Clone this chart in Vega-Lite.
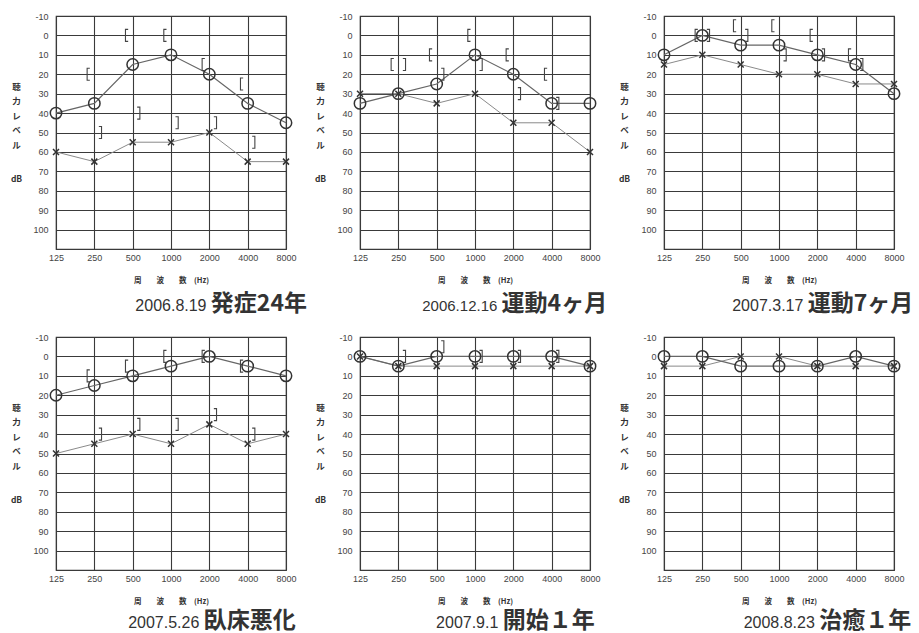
{
  "$schema": "https://vega.github.io/schema/vega-lite/v6.json",
  "background": "white",
  "padding": {"left": 9, "top": 11, "right": 0, "bottom": 0},
  "columns": 3,
  "bounds": "flush",
  "spacing": {"row": 88, "column": 74},
  "config": {
    "font": "Liberation Sans",
    "view": {"stroke": "#3a3a3a", "strokeWidth": 1.2},
    "axis": {
      "grid": true, "gridColor": "#3a3a3a", "gridOpacity": 1, "gridWidth": 1.1,
      "domain": false, "ticks": false,
      "labelFont": "Liberation Sans", "labelFontSize": 9, "labelColor": "#444", "labelFlush": false,
      "titleColor": "#333", "titleFont": "Noto Sans CJK JP", "titleFontWeight": "bold"
    },
    "axisX": {"labelPadding": 4, "titleFontSize": 7.5, "titlePadding": 14},
    "axisY": {"labelPadding": 8, "titleFontSize": 8.5, "titleAngle": 0, "titleAlign": "center", "titleBaseline": "top", "titleLineHeight": 14.5, "titleX": -40, "titleY": 66}
  },
  "datasets": {
    "points": [
      {"panel": "p1", "kind": "AR", "freq": 125, "db": 40},
      {"panel": "p1", "kind": "AR", "freq": 250, "db": 35},
      {"panel": "p1", "kind": "AR", "freq": 500, "db": 15},
      {"panel": "p1", "kind": "AR", "freq": 1000, "db": 10},
      {"panel": "p1", "kind": "AR", "freq": 2000, "db": 20},
      {"panel": "p1", "kind": "AR", "freq": 4000, "db": 35},
      {"panel": "p1", "kind": "AR", "freq": 8000, "db": 45},
      {"panel": "p1", "kind": "AL", "freq": 125, "db": 60},
      {"panel": "p1", "kind": "AL", "freq": 250, "db": 65},
      {"panel": "p1", "kind": "AL", "freq": 500, "db": 55},
      {"panel": "p1", "kind": "AL", "freq": 1000, "db": 55},
      {"panel": "p1", "kind": "AL", "freq": 2000, "db": 50},
      {"panel": "p1", "kind": "AL", "freq": 4000, "db": 65},
      {"panel": "p1", "kind": "AL", "freq": 8000, "db": 65},
      {"panel": "p1", "kind": "BR", "freq": 250, "db": 20},
      {"panel": "p1", "kind": "BR", "freq": 500, "db": 0},
      {"panel": "p1", "kind": "BR", "freq": 1000, "db": 0},
      {"panel": "p1", "kind": "BR", "freq": 2000, "db": 15},
      {"panel": "p1", "kind": "BR", "freq": 4000, "db": 25},
      {"panel": "p1", "kind": "BL", "freq": 250, "db": 50},
      {"panel": "p1", "kind": "BL", "freq": 500, "db": 40},
      {"panel": "p1", "kind": "BL", "freq": 1000, "db": 45},
      {"panel": "p1", "kind": "BL", "freq": 2000, "db": 45},
      {"panel": "p1", "kind": "BL", "freq": 4000, "db": 55},
      {"panel": "p2", "kind": "AR", "freq": 125, "db": 35},
      {"panel": "p2", "kind": "AR", "freq": 250, "db": 30},
      {"panel": "p2", "kind": "AR", "freq": 500, "db": 25},
      {"panel": "p2", "kind": "AR", "freq": 1000, "db": 10},
      {"panel": "p2", "kind": "AR", "freq": 2000, "db": 20},
      {"panel": "p2", "kind": "AR", "freq": 4000, "db": 35},
      {"panel": "p2", "kind": "AR", "freq": 8000, "db": 35},
      {"panel": "p2", "kind": "AL", "freq": 125, "db": 30},
      {"panel": "p2", "kind": "AL", "freq": 250, "db": 30},
      {"panel": "p2", "kind": "AL", "freq": 500, "db": 35},
      {"panel": "p2", "kind": "AL", "freq": 1000, "db": 30},
      {"panel": "p2", "kind": "AL", "freq": 2000, "db": 45},
      {"panel": "p2", "kind": "AL", "freq": 4000, "db": 45},
      {"panel": "p2", "kind": "AL", "freq": 8000, "db": 60},
      {"panel": "p2", "kind": "BR", "freq": 250, "db": 15},
      {"panel": "p2", "kind": "BR", "freq": 500, "db": 10},
      {"panel": "p2", "kind": "BR", "freq": 1000, "db": 0},
      {"panel": "p2", "kind": "BR", "freq": 2000, "db": 10},
      {"panel": "p2", "kind": "BR", "freq": 4000, "db": 20},
      {"panel": "p2", "kind": "BL", "freq": 250, "db": 15},
      {"panel": "p2", "kind": "BL", "freq": 500, "db": 20},
      {"panel": "p2", "kind": "BL", "freq": 1000, "db": 15},
      {"panel": "p2", "kind": "BL", "freq": 2000, "db": 30},
      {"panel": "p2", "kind": "BL", "freq": 4000, "db": 35},
      {"panel": "p3", "kind": "AR", "freq": 125, "db": 10},
      {"panel": "p3", "kind": "AR", "freq": 250, "db": 0},
      {"panel": "p3", "kind": "AR", "freq": 500, "db": 5},
      {"panel": "p3", "kind": "AR", "freq": 1000, "db": 5},
      {"panel": "p3", "kind": "AR", "freq": 2000, "db": 10},
      {"panel": "p3", "kind": "AR", "freq": 4000, "db": 15},
      {"panel": "p3", "kind": "AR", "freq": 8000, "db": 30},
      {"panel": "p3", "kind": "AL", "freq": 125, "db": 15},
      {"panel": "p3", "kind": "AL", "freq": 250, "db": 10},
      {"panel": "p3", "kind": "AL", "freq": 500, "db": 15},
      {"panel": "p3", "kind": "AL", "freq": 1000, "db": 20},
      {"panel": "p3", "kind": "AL", "freq": 2000, "db": 20},
      {"panel": "p3", "kind": "AL", "freq": 4000, "db": 25},
      {"panel": "p3", "kind": "AL", "freq": 8000, "db": 25},
      {"panel": "p3", "kind": "BR", "freq": 250, "db": 0},
      {"panel": "p3", "kind": "BR", "freq": 500, "db": -5},
      {"panel": "p3", "kind": "BR", "freq": 1000, "db": -5},
      {"panel": "p3", "kind": "BR", "freq": 2000, "db": 0},
      {"panel": "p3", "kind": "BR", "freq": 4000, "db": 10},
      {"panel": "p3", "kind": "BL", "freq": 250, "db": 0},
      {"panel": "p3", "kind": "BL", "freq": 500, "db": 0},
      {"panel": "p3", "kind": "BL", "freq": 1000, "db": 10},
      {"panel": "p3", "kind": "BL", "freq": 2000, "db": 10},
      {"panel": "p3", "kind": "BL", "freq": 4000, "db": 15},
      {"panel": "p4", "kind": "AR", "freq": 125, "db": 20},
      {"panel": "p4", "kind": "AR", "freq": 250, "db": 15},
      {"panel": "p4", "kind": "AR", "freq": 500, "db": 10},
      {"panel": "p4", "kind": "AR", "freq": 1000, "db": 5},
      {"panel": "p4", "kind": "AR", "freq": 2000, "db": 0},
      {"panel": "p4", "kind": "AR", "freq": 4000, "db": 5},
      {"panel": "p4", "kind": "AR", "freq": 8000, "db": 10},
      {"panel": "p4", "kind": "AL", "freq": 125, "db": 50},
      {"panel": "p4", "kind": "AL", "freq": 250, "db": 45},
      {"panel": "p4", "kind": "AL", "freq": 500, "db": 40},
      {"panel": "p4", "kind": "AL", "freq": 1000, "db": 45},
      {"panel": "p4", "kind": "AL", "freq": 2000, "db": 35},
      {"panel": "p4", "kind": "AL", "freq": 4000, "db": 45},
      {"panel": "p4", "kind": "AL", "freq": 8000, "db": 40},
      {"panel": "p4", "kind": "BR", "freq": 250, "db": 10},
      {"panel": "p4", "kind": "BR", "freq": 500, "db": 5},
      {"panel": "p4", "kind": "BR", "freq": 1000, "db": 0},
      {"panel": "p4", "kind": "BR", "freq": 2000, "db": 0},
      {"panel": "p4", "kind": "BR", "freq": 4000, "db": 5},
      {"panel": "p4", "kind": "BL", "freq": 250, "db": 40},
      {"panel": "p4", "kind": "BL", "freq": 500, "db": 35},
      {"panel": "p4", "kind": "BL", "freq": 1000, "db": 35},
      {"panel": "p4", "kind": "BL", "freq": 2000, "db": 30},
      {"panel": "p4", "kind": "BL", "freq": 4000, "db": 40},
      {"panel": "p5", "kind": "AR", "freq": 125, "db": 0},
      {"panel": "p5", "kind": "AR", "freq": 250, "db": 5},
      {"panel": "p5", "kind": "AR", "freq": 500, "db": 0},
      {"panel": "p5", "kind": "AR", "freq": 1000, "db": 0},
      {"panel": "p5", "kind": "AR", "freq": 2000, "db": 0},
      {"panel": "p5", "kind": "AR", "freq": 4000, "db": 0},
      {"panel": "p5", "kind": "AR", "freq": 8000, "db": 5},
      {"panel": "p5", "kind": "AL", "freq": 125, "db": 0},
      {"panel": "p5", "kind": "AL", "freq": 250, "db": 5},
      {"panel": "p5", "kind": "AL", "freq": 500, "db": 5},
      {"panel": "p5", "kind": "AL", "freq": 1000, "db": 5},
      {"panel": "p5", "kind": "AL", "freq": 2000, "db": 5},
      {"panel": "p5", "kind": "AL", "freq": 4000, "db": 5},
      {"panel": "p5", "kind": "AL", "freq": 8000, "db": 5},
      {"panel": "p5", "kind": "BL", "freq": 250, "db": 0},
      {"panel": "p5", "kind": "BL", "freq": 500, "db": -5},
      {"panel": "p5", "kind": "BL", "freq": 1000, "db": 0},
      {"panel": "p5", "kind": "BL", "freq": 2000, "db": 0},
      {"panel": "p5", "kind": "BL", "freq": 4000, "db": 0},
      {"panel": "p6", "kind": "AR", "freq": 125, "db": 0},
      {"panel": "p6", "kind": "AR", "freq": 250, "db": 0},
      {"panel": "p6", "kind": "AR", "freq": 500, "db": 5},
      {"panel": "p6", "kind": "AR", "freq": 1000, "db": 5},
      {"panel": "p6", "kind": "AR", "freq": 2000, "db": 5},
      {"panel": "p6", "kind": "AR", "freq": 4000, "db": 0},
      {"panel": "p6", "kind": "AR", "freq": 8000, "db": 5},
      {"panel": "p6", "kind": "AL", "freq": 125, "db": 5},
      {"panel": "p6", "kind": "AL", "freq": 250, "db": 5},
      {"panel": "p6", "kind": "AL", "freq": 500, "db": 0},
      {"panel": "p6", "kind": "AL", "freq": 1000, "db": 0},
      {"panel": "p6", "kind": "AL", "freq": 2000, "db": 5},
      {"panel": "p6", "kind": "AL", "freq": 4000, "db": 5},
      {"panel": "p6", "kind": "AL", "freq": 8000, "db": 5}
    ]
  },
  "concat": [
    {
      "width": 230, "height": 233,
      "data": {"name": "points"},
      "transform": [{"filter": "datum.panel === 'p1'"}],
      "resolve": {"axis": {"x": "independent", "y": "independent"}},
      "encoding": {
        "x": {"field": "freq", "type": "quantitative", "scale": {"type": "log", "base": 2, "domain": [125, 8000], "nice": false}, "axis": null},
        "y": {"field": "db", "type": "quantitative", "scale": {"domain": [-10, 110], "reverse": true, "nice": false, "zero": false}, "axis": null}
      },
      "layer": [
        {"transform": [{"filter": "datum.kind === 'AL'"}], "mark": {"type": "line", "color": "#8a8a8a", "strokeWidth": 1},
         "encoding": {
           "x": {"field": "freq", "type": "quantitative", "axis": {"orient": "bottom", "values": [125, 250, 500, 1000, 2000, 4000, 8000], "format": "d", "title": "周　　波　　数　(Hz)"}},
           "y": {"field": "db", "type": "quantitative", "axis": {"orient": "left", "values": [-10, 0, 10, 20, 30, 40, 50, 60, 70, 80, 90, 100], "labelExpr": "'' + datum.value", "title": ["聴", "力", "レ", "ベ", "ル"]}}}},
        {"transform": [{"filter": "datum.kind === 'AR'"}], "mark": {"type": "line", "color": "#666", "strokeWidth": 1.2},
         "encoding": {
           "x": {"field": "freq", "type": "quantitative", "axis": {"orient": "bottom", "values": [1884, 2036], "grid": false, "title": null, "labelOverlap": false, "labelBound": false, "labelBaseline": "alphabetic", "labelPadding": 61, "labelColor": "#333",
             "labelExpr": "datum.value < 1960 ? '2006.8.19' : '発症24年'",
             "labelAlign": {"condition": {"test": "datum.value < 1960", "value": "right"}, "value": "left"},
             "labelFont": {"condition": {"test": "datum.value < 1960", "value": "Liberation Sans"}, "value": "Noto Sans CJK JP"},
             "labelFontWeight": {"condition": {"test": "datum.value < 1960", "value": "normal"}, "value": "bold"},
             "labelFontSize": {"condition": {"test": "datum.value < 1960", "value": 16}, "value": 23}}},
           "y": {"field": "db", "type": "quantitative", "axis": {"orient": "left", "grid": false, "labels": false, "title": "dB", "titleY": 158}}}},
        {"transform": [{"filter": "datum.kind === 'AR'"}], "mark": {"type": "point", "shape": "circle", "size": 130, "strokeWidth": 1.5, "color": "#333", "filled": false, "opacity": 1}},
        {"transform": [{"filter": "datum.kind === 'AL'"}], "mark": {"type": "point", "shape": "M-1,-1L1,1M-1,1L1,-1", "size": 36, "strokeWidth": 1.5, "color": "#333", "filled": false, "opacity": 1}},
        {"transform": [{"filter": "datum.kind === 'BR'"}], "mark": {"type": "point", "shape": "M-0.75,-1L-1.2,-1L-1.2,1L-0.75,1", "size": 144, "strokeWidth": 1.1, "color": "#444", "filled": false, "opacity": 1}},
        {"transform": [{"filter": "datum.kind === 'BL'"}], "mark": {"type": "point", "shape": "M0.75,-1L1.2,-1L1.2,1L0.75,1", "size": 144, "strokeWidth": 1.1, "color": "#444", "filled": false, "opacity": 1}}
      ]
    },
    {
      "width": 230, "height": 233,
      "data": {"name": "points"},
      "transform": [{"filter": "datum.panel === 'p2'"}],
      "resolve": {"axis": {"x": "independent", "y": "independent"}},
      "encoding": {
        "x": {"field": "freq", "type": "quantitative", "scale": {"type": "log", "base": 2, "domain": [125, 8000], "nice": false}, "axis": null},
        "y": {"field": "db", "type": "quantitative", "scale": {"domain": [-10, 110], "reverse": true, "nice": false, "zero": false}, "axis": null}
      },
      "layer": [
        {"transform": [{"filter": "datum.kind === 'AL'"}], "mark": {"type": "line", "color": "#8a8a8a", "strokeWidth": 1},
         "encoding": {
           "x": {"field": "freq", "type": "quantitative", "axis": {"orient": "bottom", "values": [125, 250, 500, 1000, 2000, 4000, 8000], "format": "d", "title": "周　　波　　数　(Hz)"}},
           "y": {"field": "db", "type": "quantitative", "axis": {"orient": "left", "values": [-10, 0, 10, 20, 30, 40, 50, 60, 70, 80, 90, 100], "labelExpr": "'' + datum.value", "title": ["聴", "力", "レ", "ベ", "ル"]}}}},
        {"transform": [{"filter": "datum.kind === 'AR'"}], "mark": {"type": "line", "color": "#666", "strokeWidth": 1.2},
         "encoding": {
           "x": {"field": "freq", "type": "quantitative", "axis": {"orient": "bottom", "values": [1484, 1602], "grid": false, "title": null, "labelOverlap": false, "labelBound": false, "labelBaseline": "alphabetic", "labelPadding": 61, "labelColor": "#333",
             "labelExpr": "datum.value < 1543 ? '2006.12.16' : '運動4ヶ月'",
             "labelAlign": {"condition": {"test": "datum.value < 1543", "value": "right"}, "value": "left"},
             "labelFont": {"condition": {"test": "datum.value < 1543", "value": "Liberation Sans"}, "value": "Noto Sans CJK JP"},
             "labelFontWeight": {"condition": {"test": "datum.value < 1543", "value": "normal"}, "value": "bold"},
             "labelFontSize": {"condition": {"test": "datum.value < 1543", "value": 15}, "value": 23}}},
           "y": {"field": "db", "type": "quantitative", "axis": {"orient": "left", "grid": false, "labels": false, "title": "dB", "titleY": 158}}}},
        {"transform": [{"filter": "datum.kind === 'AR'"}], "mark": {"type": "point", "shape": "circle", "size": 130, "strokeWidth": 1.5, "color": "#333", "filled": false, "opacity": 1}},
        {"transform": [{"filter": "datum.kind === 'AL'"}], "mark": {"type": "point", "shape": "M-1,-1L1,1M-1,1L1,-1", "size": 36, "strokeWidth": 1.5, "color": "#333", "filled": false, "opacity": 1}},
        {"transform": [{"filter": "datum.kind === 'BR'"}], "mark": {"type": "point", "shape": "M-0.75,-1L-1.2,-1L-1.2,1L-0.75,1", "size": 144, "strokeWidth": 1.1, "color": "#444", "filled": false, "opacity": 1}},
        {"transform": [{"filter": "datum.kind === 'BL'"}], "mark": {"type": "point", "shape": "M0.75,-1L1.2,-1L1.2,1L0.75,1", "size": 144, "strokeWidth": 1.1, "color": "#444", "filled": false, "opacity": 1}}
      ]
    },
    {
      "width": 230, "height": 233,
      "data": {"name": "points"},
      "transform": [{"filter": "datum.panel === 'p3'"}],
      "resolve": {"axis": {"x": "independent", "y": "independent"}},
      "encoding": {
        "x": {"field": "freq", "type": "quantitative", "scale": {"type": "log", "base": 2, "domain": [125, 8000], "nice": false}, "axis": null},
        "y": {"field": "db", "type": "quantitative", "scale": {"domain": [-10, 110], "reverse": true, "nice": false, "zero": false}, "axis": null}
      },
      "layer": [
        {"transform": [{"filter": "datum.kind === 'AL'"}], "mark": {"type": "line", "color": "#8a8a8a", "strokeWidth": 1},
         "encoding": {
           "x": {"field": "freq", "type": "quantitative", "axis": {"orient": "bottom", "values": [125, 250, 500, 1000, 2000, 4000, 8000], "format": "d", "title": "周　　波　　数　(Hz)"}},
           "y": {"field": "db", "type": "quantitative", "axis": {"orient": "left", "values": [-10, 0, 10, 20, 30, 40, 50, 60, 70, 80, 90, 100], "labelExpr": "'' + datum.value", "title": ["聴", "力", "レ", "ベ", "ル"]}}}},
        {"transform": [{"filter": "datum.kind === 'AR'"}], "mark": {"type": "line", "color": "#666", "strokeWidth": 1.2},
         "encoding": {
           "x": {"field": "freq", "type": "quantitative", "axis": {"orient": "bottom", "values": [1540, 1665], "grid": false, "title": null, "labelOverlap": false, "labelBound": false, "labelBaseline": "alphabetic", "labelPadding": 61, "labelColor": "#333",
             "labelExpr": "datum.value < 1601 ? '2007.3.17' : '運動7ヶ月'",
             "labelAlign": {"condition": {"test": "datum.value < 1601", "value": "right"}, "value": "left"},
             "labelFont": {"condition": {"test": "datum.value < 1601", "value": "Liberation Sans"}, "value": "Noto Sans CJK JP"},
             "labelFontWeight": {"condition": {"test": "datum.value < 1601", "value": "normal"}, "value": "bold"},
             "labelFontSize": {"condition": {"test": "datum.value < 1601", "value": 16}, "value": 23}}},
           "y": {"field": "db", "type": "quantitative", "axis": {"orient": "left", "grid": false, "labels": false, "title": "dB", "titleY": 158}}}},
        {"transform": [{"filter": "datum.kind === 'AR'"}], "mark": {"type": "point", "shape": "circle", "size": 130, "strokeWidth": 1.5, "color": "#333", "filled": false, "opacity": 1}},
        {"transform": [{"filter": "datum.kind === 'AL'"}], "mark": {"type": "point", "shape": "M-1,-1L1,1M-1,1L1,-1", "size": 36, "strokeWidth": 1.5, "color": "#333", "filled": false, "opacity": 1}},
        {"transform": [{"filter": "datum.kind === 'BR'"}], "mark": {"type": "point", "shape": "M-0.75,-1L-1.2,-1L-1.2,1L-0.75,1", "size": 144, "strokeWidth": 1.1, "color": "#444", "filled": false, "opacity": 1}},
        {"transform": [{"filter": "datum.kind === 'BL'"}], "mark": {"type": "point", "shape": "M0.75,-1L1.2,-1L1.2,1L0.75,1", "size": 144, "strokeWidth": 1.1, "color": "#444", "filled": false, "opacity": 1}}
      ]
    },
    {
      "width": 230, "height": 233,
      "data": {"name": "points"},
      "transform": [{"filter": "datum.panel === 'p4'"}],
      "resolve": {"axis": {"x": "independent", "y": "independent"}},
      "encoding": {
        "x": {"field": "freq", "type": "quantitative", "scale": {"type": "log", "base": 2, "domain": [125, 8000], "nice": false}, "axis": null},
        "y": {"field": "db", "type": "quantitative", "scale": {"domain": [-10, 110], "reverse": true, "nice": false, "zero": false}, "axis": null}
      },
      "layer": [
        {"transform": [{"filter": "datum.kind === 'AL'"}], "mark": {"type": "line", "color": "#8a8a8a", "strokeWidth": 1},
         "encoding": {
           "x": {"field": "freq", "type": "quantitative", "axis": {"orient": "bottom", "values": [125, 250, 500, 1000, 2000, 4000, 8000], "format": "d", "title": "周　　波　　数　(Hz)"}},
           "y": {"field": "db", "type": "quantitative", "axis": {"orient": "left", "values": [-10, 0, 10, 20, 30, 40, 50, 60, 70, 80, 90, 100], "labelExpr": "'' + datum.value", "title": ["聴", "力", "レ", "ベ", "ル"]}}}},
        {"transform": [{"filter": "datum.kind === 'AR'"}], "mark": {"type": "line", "color": "#666", "strokeWidth": 1.2},
         "encoding": {
           "x": {"field": "freq", "type": "quantitative", "axis": {"orient": "bottom", "values": [1655, 1790], "grid": false, "title": null, "labelOverlap": false, "labelBound": false, "labelBaseline": "alphabetic", "labelPadding": 57, "labelColor": "#333",
             "labelExpr": "datum.value < 1721 ? '2007.5.26' : '臥床悪化'",
             "labelAlign": {"condition": {"test": "datum.value < 1721", "value": "right"}, "value": "left"},
             "labelFont": {"condition": {"test": "datum.value < 1721", "value": "Liberation Sans"}, "value": "Noto Sans CJK JP"},
             "labelFontWeight": {"condition": {"test": "datum.value < 1721", "value": "normal"}, "value": "bold"},
             "labelFontSize": {"condition": {"test": "datum.value < 1721", "value": 16}, "value": 23}}},
           "y": {"field": "db", "type": "quantitative", "axis": {"orient": "left", "grid": false, "labels": false, "title": "dB", "titleY": 158}}}},
        {"transform": [{"filter": "datum.kind === 'AR'"}], "mark": {"type": "point", "shape": "circle", "size": 130, "strokeWidth": 1.5, "color": "#333", "filled": false, "opacity": 1}},
        {"transform": [{"filter": "datum.kind === 'AL'"}], "mark": {"type": "point", "shape": "M-1,-1L1,1M-1,1L1,-1", "size": 36, "strokeWidth": 1.5, "color": "#333", "filled": false, "opacity": 1}},
        {"transform": [{"filter": "datum.kind === 'BR'"}], "mark": {"type": "point", "shape": "M-0.75,-1L-1.2,-1L-1.2,1L-0.75,1", "size": 144, "strokeWidth": 1.1, "color": "#444", "filled": false, "opacity": 1}},
        {"transform": [{"filter": "datum.kind === 'BL'"}], "mark": {"type": "point", "shape": "M0.75,-1L1.2,-1L1.2,1L0.75,1", "size": 144, "strokeWidth": 1.1, "color": "#444", "filled": false, "opacity": 1}}
      ]
    },
    {
      "width": 230, "height": 233,
      "data": {"name": "points"},
      "transform": [{"filter": "datum.panel === 'p5'"}],
      "resolve": {"axis": {"x": "independent", "y": "independent"}},
      "encoding": {
        "x": {"field": "freq", "type": "quantitative", "scale": {"type": "log", "base": 2, "domain": [125, 8000], "nice": false}, "axis": null},
        "y": {"field": "db", "type": "quantitative", "scale": {"domain": [-10, 110], "reverse": true, "nice": false, "zero": false}, "axis": null}
      },
      "layer": [
        {"transform": [{"filter": "datum.kind === 'AL'"}], "mark": {"type": "line", "color": "#8a8a8a", "strokeWidth": 1},
         "encoding": {
           "x": {"field": "freq", "type": "quantitative", "axis": {"orient": "bottom", "values": [125, 250, 500, 1000, 2000, 4000, 8000], "format": "d", "title": "周　　波　　数　(Hz)"}},
           "y": {"field": "db", "type": "quantitative", "axis": {"orient": "left", "values": [-10, 0, 10, 20, 30, 40, 50, 60, 70, 80, 90, 100], "labelExpr": "'' + datum.value", "title": ["聴", "力", "レ", "ベ", "ル"]}}}},
        {"transform": [{"filter": "datum.kind === 'AR'"}], "mark": {"type": "line", "color": "#666", "strokeWidth": 1.2},
         "encoding": {
           "x": {"field": "freq", "type": "quantitative", "axis": {"orient": "bottom", "values": [1512, 1634], "grid": false, "title": null, "labelOverlap": false, "labelBound": false, "labelBaseline": "alphabetic", "labelPadding": 57, "labelColor": "#333",
             "labelExpr": "datum.value < 1572 ? '2007.9.1' : '開始１年'",
             "labelAlign": {"condition": {"test": "datum.value < 1572", "value": "right"}, "value": "left"},
             "labelFont": {"condition": {"test": "datum.value < 1572", "value": "Liberation Sans"}, "value": "Noto Sans CJK JP"},
             "labelFontWeight": {"condition": {"test": "datum.value < 1572", "value": "normal"}, "value": "bold"},
             "labelFontSize": {"condition": {"test": "datum.value < 1572", "value": 16}, "value": 23}}},
           "y": {"field": "db", "type": "quantitative", "axis": {"orient": "left", "grid": false, "labels": false, "title": "dB", "titleY": 158}}}},
        {"transform": [{"filter": "datum.kind === 'AR'"}], "mark": {"type": "point", "shape": "circle", "size": 130, "strokeWidth": 1.5, "color": "#333", "filled": false, "opacity": 1}},
        {"transform": [{"filter": "datum.kind === 'AL'"}], "mark": {"type": "point", "shape": "M-1,-1L1,1M-1,1L1,-1", "size": 36, "strokeWidth": 1.5, "color": "#333", "filled": false, "opacity": 1}},
        {"transform": [{"filter": "datum.kind === 'BL'"}], "mark": {"type": "point", "shape": "M0.75,-1L1.2,-1L1.2,1L0.75,1", "size": 144, "strokeWidth": 1.1, "color": "#444", "filled": false, "opacity": 1}}
      ]
    },
    {
      "width": 230, "height": 233,
      "data": {"name": "points"},
      "transform": [{"filter": "datum.panel === 'p6'"}],
      "resolve": {"axis": {"x": "independent", "y": "independent"}},
      "encoding": {
        "x": {"field": "freq", "type": "quantitative", "scale": {"type": "log", "base": 2, "domain": [125, 8000], "nice": false}, "axis": null},
        "y": {"field": "db", "type": "quantitative", "scale": {"domain": [-10, 110], "reverse": true, "nice": false, "zero": false}, "axis": null}
      },
      "layer": [
        {"transform": [{"filter": "datum.kind === 'AL'"}], "mark": {"type": "line", "color": "#8a8a8a", "strokeWidth": 1},
         "encoding": {
           "x": {"field": "freq", "type": "quantitative", "axis": {"orient": "bottom", "values": [125, 250, 500, 1000, 2000, 4000, 8000], "format": "d", "title": "周　　波　　数　(Hz)"}},
           "y": {"field": "db", "type": "quantitative", "axis": {"orient": "left", "values": [-10, 0, 10, 20, 30, 40, 50, 60, 70, 80, 90, 100], "labelExpr": "'' + datum.value", "title": ["聴", "力", "レ", "ベ", "ル"]}}}},
        {"transform": [{"filter": "datum.kind === 'AR'"}], "mark": {"type": "line", "color": "#666", "strokeWidth": 1.2},
         "encoding": {
           "x": {"field": "freq", "type": "quantitative", "axis": {"orient": "bottom", "values": [1895, 2049], "grid": false, "title": null, "labelOverlap": false, "labelBound": false, "labelBaseline": "alphabetic", "labelPadding": 57, "labelColor": "#333",
             "labelExpr": "datum.value < 1971 ? '2008.8.23' : '治癒１年'",
             "labelAlign": {"condition": {"test": "datum.value < 1971", "value": "right"}, "value": "left"},
             "labelFont": {"condition": {"test": "datum.value < 1971", "value": "Liberation Sans"}, "value": "Noto Sans CJK JP"},
             "labelFontWeight": {"condition": {"test": "datum.value < 1971", "value": "normal"}, "value": "bold"},
             "labelFontSize": {"condition": {"test": "datum.value < 1971", "value": 16}, "value": 23}}},
           "y": {"field": "db", "type": "quantitative", "axis": {"orient": "left", "grid": false, "labels": false, "title": "dB", "titleY": 158}}}},
        {"transform": [{"filter": "datum.kind === 'AR'"}], "mark": {"type": "point", "shape": "circle", "size": 130, "strokeWidth": 1.5, "color": "#333", "filled": false, "opacity": 1}},
        {"transform": [{"filter": "datum.kind === 'AL'"}], "mark": {"type": "point", "shape": "M-1,-1L1,1M-1,1L1,-1", "size": 36, "strokeWidth": 1.5, "color": "#333", "filled": false, "opacity": 1}}
      ]
    }
  ]
}
